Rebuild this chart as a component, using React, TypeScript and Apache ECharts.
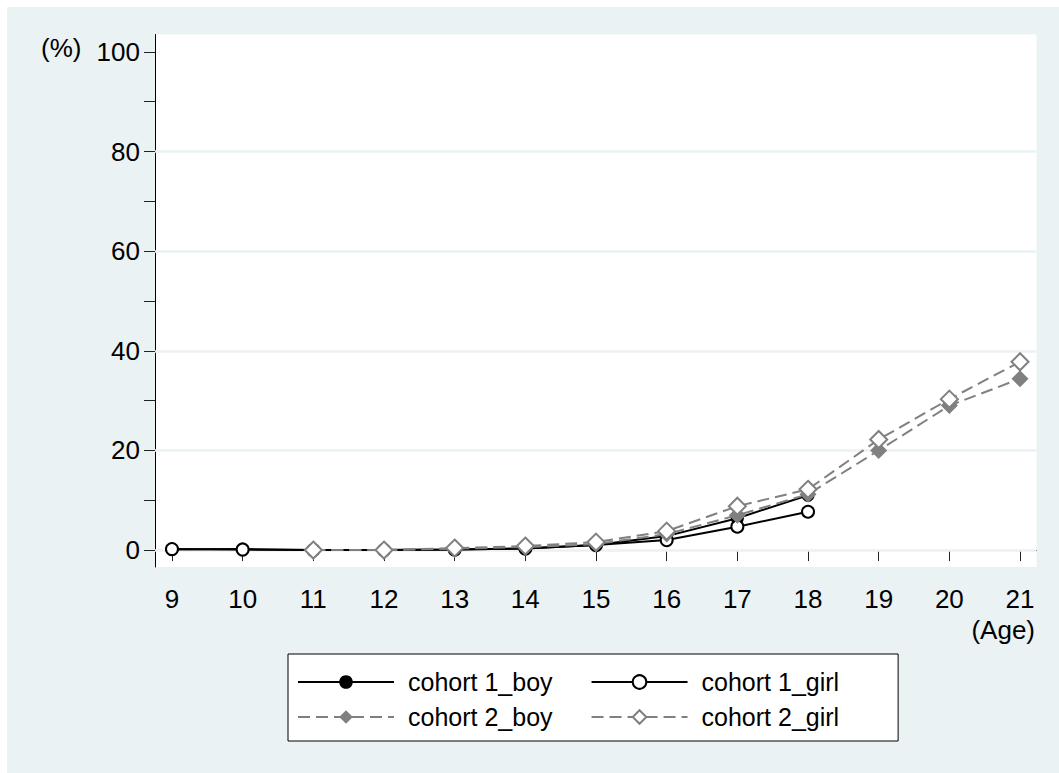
import React, { useEffect, useRef } from "react";
import * as echarts from "echarts";

const ages = [9, 10, 11, 12, 13, 14, 15, 16, 17, 18, 19, 20, 21];
const cohort1Ages = [9, 10, 11, 12, 13, 14, 15, 16, 17, 18];
const cohort2Ages = [11, 12, 13, 14, 15, 16, 17, 18, 19, 20, 21];
const cohort1Boy = [0.1, 0.2, 0, 0, 0.1, 0.3, 1.0, 2.8, 6.4, 11.0];
const cohort1Girl = [0.2, 0.1, 0, 0, 0.1, 0.3, 1.0, 2.0, 4.7, 7.7];
const cohort2Boy = [0, 0, 0.3, 0.6, 1.2, 3.2, 7.0, 11.2, 20.0, 29.0, 34.4];
const cohort2Girl = [0, 0, 0.4, 0.8, 1.6, 3.8, 8.8, 12.2, 22.2, 30.3, 37.8];
const yLabels = [0, 20, 40, 60, 80, 100];
const yTicks = [0, 10, 20, 30, 40, 50, 60, 70, 80, 90, 100];
const yGrid = [0, 20, 40, 60, 80];
const seriesNames = ["cohort 1_boy", "cohort 1_girl", "cohort 2_boy", "cohort 2_girl"];

const BG = "#eaf2f3";
const GRAY = "#808080";
const FONT = "'Liberation Sans', Arial, sans-serif";

const pair = (xs: number[], ys: number[]) => xs.map((x, i) => [x, ys[i]]);

export default function App() {
  const ref = useRef<HTMLDivElement>(null);
  useEffect(() => {
    document.body.style.margin = "0";
    const chart = echarts.init(ref.current!, null, { renderer: "svg" });
    const solid = { color: "#000", width: 2, type: "solid" as const };
    const dashed = { color: GRAY, width: 2, type: [12, 6] as any };
    chart.setOption({
      animation: false,
      backgroundColor: BG,
      textStyle: { fontFamily: FONT },
      grid: {
        left: 148,
        top: 27.5,
        right: 22.5,
        bottom: 206,
        show: true,
        backgroundColor: "#fff",
        borderWidth: 0,
      },
      xAxis: {
        type: "value",
        min: 8.76,
        max: 21.233,
        axisLine: { show: true, lineStyle: { color: "#000", width: 1 } },
        axisTick: { show: true, length: 11, customValues: ages, lineStyle: { color: "#222", width: 1 } },
        axisLabel: {
          customValues: ages,
          fontSize: 26,
          lineHeight: 22,
          color: "#000",
          margin: 21,
          fontFamily: FONT,
        },
        splitLine: { show: false },
      },
      yAxis: {
        type: "value",
        min: -3.4,
        max: 103.5,
        axisLine: { show: true, lineStyle: { color: "#000", width: 1 } },
        axisTick: { show: true, length: 11, customValues: yTicks, lineStyle: { color: "#222", width: 1 } },
        axisLabel: { customValues: yLabels, fontSize: 26, color: "#000", margin: 15, fontFamily: FONT },
        splitLine: { show: false },
      },
      legend: {
        left: 281,
        top: 647,
        width: 590,
        orient: "horizontal",
        backgroundColor: "#fff",
        borderColor: "#000",
        borderWidth: 1,
        borderRadius: 0,
        padding: [14, 28, 10, 9],
        itemWidth: 96,
        itemHeight: 17,
        itemGap: 7,
        textStyle: {
          fontSize: 25,
          color: "#000",
          fontFamily: FONT,
          lineHeight: 28,
          padding: [0, 31, 0, 9],
        },
        data: seriesNames,
      },
      series: [
        {
          name: seriesNames[0],
          type: "line",
          data: pair(cohort1Ages, cohort1Boy),
          symbol: "circle",
          symbolSize: 13,
          itemStyle: { color: "#000" },
          lineStyle: solid,
          markLine: {
            silent: true,
            z: 1,
            symbol: ["none", "none"],
            label: { show: false },
            lineStyle: { color: BG, width: 2.5, type: "solid" },
            data: yGrid.map((v) => ({ yAxis: v })),
          },
        },
        {
          name: seriesNames[1],
          type: "line",
          data: pair(cohort1Ages, cohort1Girl),
          symbol: "emptyCircle",
          symbolSize: 12,
          itemStyle: { color: "#000", borderWidth: 2.5 },
          lineStyle: solid,
        },
        {
          name: seriesNames[2],
          type: "line",
          data: pair(cohort2Ages, cohort2Boy),
          symbol: "diamond",
          symbolSize: [17, 17],
          itemStyle: { color: GRAY },
          lineStyle: dashed,
        },
        {
          name: seriesNames[3],
          type: "line",
          data: pair(cohort2Ages, cohort2Girl),
          symbol: "emptyDiamond",
          symbolSize: [17, 17],
          itemStyle: { color: GRAY, borderWidth: 2.5 },
          lineStyle: dashed,
        },
      ],
      graphic: [
        {
          type: "text",
          left: 34,
          top: 28,
          style: { text: "(%)", fontSize: 26, fill: "#000", fontFamily: FONT },
        },
        {
          type: "text",
          right: 24,
          top: 610,
          style: { text: "(Age)", fontSize: 26, lineHeight: 22, fill: "#000", fontFamily: FONT },
        },
      ],
    });
    return () => chart.dispose();
  }, []);
  return (
    <div
      ref={ref}
      style={{ position: "absolute", left: 7, top: 7, width: 1052, height: 766 }}
    />
  );
}
